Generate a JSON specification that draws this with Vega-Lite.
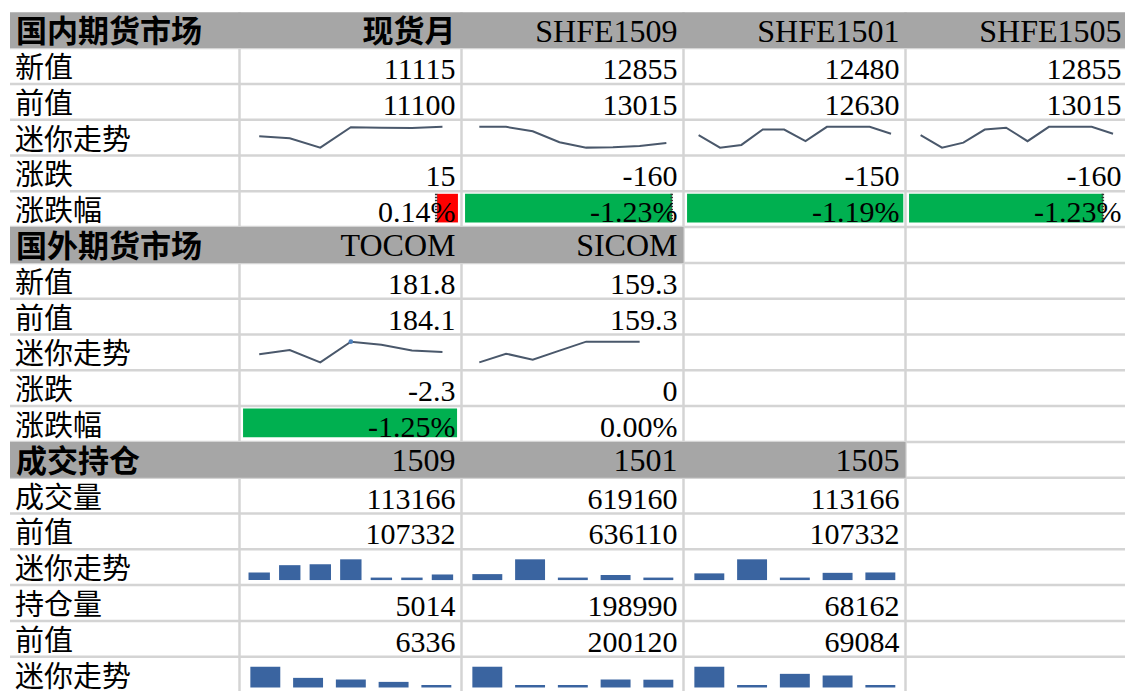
{
  "$schema": "https://vega.github.io/schema/vega-lite/v6.json",
  "width": 1125,
  "height": 691,
  "autosize": {"type": "none"},
  "padding": 0,
  "background": "#ffffff",
  "config": {"view": {"stroke": null}},
  "datasets": {
    "cells": [
      {"row": 0, "col": 0, "text": "国内期货市场", "kind": "head"},
      {"row": 0, "col": 1, "text": "现货月", "kind": "headC"},
      {"row": 0, "col": 2, "text": "SHFE1509", "kind": "headL"},
      {"row": 0, "col": 3, "text": "SHFE1501", "kind": "headL"},
      {"row": 0, "col": 4, "text": "SHFE1505", "kind": "headL"},
      {"row": 1, "col": 0, "text": "新值", "kind": "label"},
      {"row": 1, "col": 1, "text": "11115", "kind": "num"},
      {"row": 1, "col": 2, "text": "12855", "kind": "num"},
      {"row": 1, "col": 3, "text": "12480", "kind": "num"},
      {"row": 1, "col": 4, "text": "12855", "kind": "num"},
      {"row": 2, "col": 0, "text": "前值", "kind": "label"},
      {"row": 2, "col": 1, "text": "11100", "kind": "num"},
      {"row": 2, "col": 2, "text": "13015", "kind": "num"},
      {"row": 2, "col": 3, "text": "12630", "kind": "num"},
      {"row": 2, "col": 4, "text": "13015", "kind": "num"},
      {"row": 3, "col": 0, "text": "迷你走势", "kind": "label"},
      {"row": 4, "col": 0, "text": "涨跌", "kind": "label"},
      {"row": 4, "col": 1, "text": "15", "kind": "num"},
      {"row": 4, "col": 2, "text": "-160", "kind": "num"},
      {"row": 4, "col": 3, "text": "-150", "kind": "num"},
      {"row": 4, "col": 4, "text": "-160", "kind": "num"},
      {"row": 5, "col": 0, "text": "涨跌幅", "kind": "label"},
      {"row": 5, "col": 1, "text": "0.14%", "kind": "num"},
      {"row": 5, "col": 2, "text": "-1.23%", "kind": "num"},
      {"row": 5, "col": 3, "text": "-1.19%", "kind": "num"},
      {"row": 5, "col": 4, "text": "-1.23%", "kind": "num"},
      {"row": 6, "col": 0, "text": "国外期货市场", "kind": "head"},
      {"row": 6, "col": 1, "text": "TOCOM", "kind": "headL"},
      {"row": 6, "col": 2, "text": "SICOM", "kind": "headL"},
      {"row": 7, "col": 0, "text": "新值", "kind": "label"},
      {"row": 7, "col": 1, "text": "181.8", "kind": "num"},
      {"row": 7, "col": 2, "text": "159.3", "kind": "num"},
      {"row": 8, "col": 0, "text": "前值", "kind": "label"},
      {"row": 8, "col": 1, "text": "184.1", "kind": "num"},
      {"row": 8, "col": 2, "text": "159.3", "kind": "num"},
      {"row": 9, "col": 0, "text": "迷你走势", "kind": "label"},
      {"row": 10, "col": 0, "text": "涨跌", "kind": "label"},
      {"row": 10, "col": 1, "text": "-2.3", "kind": "num"},
      {"row": 10, "col": 2, "text": "0", "kind": "num"},
      {"row": 11, "col": 0, "text": "涨跌幅", "kind": "label"},
      {"row": 11, "col": 1, "text": "-1.25%", "kind": "num"},
      {"row": 11, "col": 2, "text": "0.00%", "kind": "num"},
      {"row": 12, "col": 0, "text": "成交持仓", "kind": "head"},
      {"row": 12, "col": 1, "text": "1509", "kind": "headL"},
      {"row": 12, "col": 2, "text": "1501", "kind": "headL"},
      {"row": 12, "col": 3, "text": "1505", "kind": "headL"},
      {"row": 13, "col": 0, "text": "成交量", "kind": "label"},
      {"row": 13, "col": 1, "text": "113166", "kind": "num"},
      {"row": 13, "col": 2, "text": "619160", "kind": "num"},
      {"row": 13, "col": 3, "text": "113166", "kind": "num"},
      {"row": 14, "col": 0, "text": "前值", "kind": "label"},
      {"row": 14, "col": 1, "text": "107332", "kind": "num"},
      {"row": 14, "col": 2, "text": "636110", "kind": "num"},
      {"row": 14, "col": 3, "text": "107332", "kind": "num"},
      {"row": 15, "col": 0, "text": "迷你走势", "kind": "label"},
      {"row": 16, "col": 0, "text": "持仓量", "kind": "label"},
      {"row": 16, "col": 1, "text": "5014", "kind": "num"},
      {"row": 16, "col": 2, "text": "198990", "kind": "num"},
      {"row": 16, "col": 3, "text": "68162", "kind": "num"},
      {"row": 17, "col": 0, "text": "前值", "kind": "label"},
      {"row": 17, "col": 1, "text": "6336", "kind": "num"},
      {"row": 17, "col": 2, "text": "200120", "kind": "num"},
      {"row": 17, "col": 3, "text": "69084", "kind": "num"},
      {"row": 18, "col": 0, "text": "迷你走势", "kind": "label"}
    ],
    "bands": [
      {"row": 0, "from": 0, "to": 5},
      {"row": 6, "from": 0, "to": 3},
      {"row": 12, "from": 0, "to": 4}
    ],
    "databars": [
      {"row": 5, "col": 1, "sign": "up", "lo": 0.89, "hi": 0.984, "axis": 0.886},
      {"row": 5, "col": 2, "sign": "down", "lo": 0.016, "hi": 0.948, "axis": 0.947},
      {"row": 5, "col": 3, "sign": "down", "lo": 0.016, "hi": 0.99, "axis": null},
      {"row": 5, "col": 4, "sign": "down", "lo": 0.016, "hi": 0.89, "axis": 0.889},
      {"row": 11, "col": 1, "sign": "down", "lo": 0.016, "hi": 0.98, "axis": null}
    ],
    "trend": [
      {"row": 3, "col": 1, "i": 0, "v": 55}, {"row": 3, "col": 1, "i": 1, "v": 45}, {"row": 3, "col": 1, "i": 2, "v": 0}, {"row": 3, "col": 1, "i": 3, "v": 98}, {"row": 3, "col": 1, "i": 4, "v": 96}, {"row": 3, "col": 1, "i": 5, "v": 95}, {"row": 3, "col": 1, "i": 6, "v": 100},
      {"row": 3, "col": 2, "i": 0, "v": 100}, {"row": 3, "col": 2, "i": 1, "v": 100}, {"row": 3, "col": 2, "i": 2, "v": 79}, {"row": 3, "col": 2, "i": 3, "v": 26}, {"row": 3, "col": 2, "i": 4, "v": 0}, {"row": 3, "col": 2, "i": 5, "v": 2}, {"row": 3, "col": 2, "i": 6, "v": 8}, {"row": 3, "col": 2, "i": 7, "v": 22},
      {"row": 3, "col": 3, "i": 0, "v": 60}, {"row": 3, "col": 3, "i": 1, "v": 0}, {"row": 3, "col": 3, "i": 2, "v": 13}, {"row": 3, "col": 3, "i": 3, "v": 87}, {"row": 3, "col": 3, "i": 4, "v": 87}, {"row": 3, "col": 3, "i": 5, "v": 31}, {"row": 3, "col": 3, "i": 6, "v": 100}, {"row": 3, "col": 3, "i": 7, "v": 100}, {"row": 3, "col": 3, "i": 8, "v": 100}, {"row": 3, "col": 3, "i": 9, "v": 67},
      {"row": 3, "col": 4, "i": 0, "v": 60}, {"row": 3, "col": 4, "i": 1, "v": 0}, {"row": 3, "col": 4, "i": 2, "v": 24}, {"row": 3, "col": 4, "i": 3, "v": 87}, {"row": 3, "col": 4, "i": 4, "v": 96}, {"row": 3, "col": 4, "i": 5, "v": 31}, {"row": 3, "col": 4, "i": 6, "v": 100}, {"row": 3, "col": 4, "i": 7, "v": 100}, {"row": 3, "col": 4, "i": 8, "v": 100}, {"row": 3, "col": 4, "i": 9, "v": 67},
      {"row": 9, "col": 1, "i": 0, "v": 39}, {"row": 9, "col": 1, "i": 1, "v": 60}, {"row": 9, "col": 1, "i": 2, "v": 0}, {"row": 9, "col": 1, "i": 3, "v": 100}, {"row": 9, "col": 1, "i": 4, "v": 85}, {"row": 9, "col": 1, "i": 5, "v": 57}, {"row": 9, "col": 1, "i": 6, "v": 50},
      {"row": 9, "col": 2, "i": 0, "v": 0}, {"row": 9, "col": 2, "i": 1, "v": 42}, {"row": 9, "col": 2, "i": 2, "v": 13}, {"row": 9, "col": 2, "i": 3, "v": 57}, {"row": 9, "col": 2, "i": 4, "v": 100}, {"row": 9, "col": 2, "i": 5, "v": 100}, {"row": 9, "col": 2, "i": 6, "v": 100}, {"row": 9, "col": 2, "i": 7, "v": null}
    ],
    "volume": [
      {"row": 15, "col": 1, "i": 0, "v": 28}, {"row": 15, "col": 1, "i": 1, "v": 68}, {"row": 15, "col": 1, "i": 2, "v": 73}, {"row": 15, "col": 1, "i": 3, "v": 100}, {"row": 15, "col": 1, "i": 4, "v": 0}, {"row": 15, "col": 1, "i": 5, "v": 0}, {"row": 15, "col": 1, "i": 6, "v": 17},
      {"row": 15, "col": 2, "i": 0, "v": 19}, {"row": 15, "col": 2, "i": 1, "v": 100}, {"row": 15, "col": 2, "i": 2, "v": 0}, {"row": 15, "col": 2, "i": 3, "v": 14}, {"row": 15, "col": 2, "i": 4, "v": 0},
      {"row": 15, "col": 3, "i": 0, "v": 23}, {"row": 15, "col": 3, "i": 1, "v": 100}, {"row": 15, "col": 3, "i": 2, "v": 0}, {"row": 15, "col": 3, "i": 3, "v": 26}, {"row": 15, "col": 3, "i": 4, "v": 28},
      {"row": 18, "col": 1, "i": 0, "v": 100}, {"row": 18, "col": 1, "i": 1, "v": 39}, {"row": 18, "col": 1, "i": 2, "v": 30}, {"row": 18, "col": 1, "i": 3, "v": 17}, {"row": 18, "col": 1, "i": 4, "v": 0},
      {"row": 18, "col": 2, "i": 0, "v": 100}, {"row": 18, "col": 2, "i": 1, "v": 0}, {"row": 18, "col": 2, "i": 2, "v": 0}, {"row": 18, "col": 2, "i": 3, "v": 30}, {"row": 18, "col": 2, "i": 4, "v": 29},
      {"row": 18, "col": 3, "i": 0, "v": 100}, {"row": 18, "col": 3, "i": 1, "v": 0}, {"row": 18, "col": 3, "i": 2, "v": 61}, {"row": 18, "col": 3, "i": 3, "v": 52}, {"row": 18, "col": 3, "i": 4, "v": 0}
    ]
  },
  "layer": [
    {
      "data": {"name": "cells"},
      "transform": [{"filter": "datum.col == 0"}, {"calculate": "datum.row + 1", "as": "yb"}],
      "mark": {"type": "rule", "color": "#d4d4d4", "strokeWidth": 2.5},
      "encoding": {
        "x": {"datum": 0, "type": "quantitative", "scale": {"domain": [0, 1, 5], "range": [10, 239.5, 1127.5], "nice": false, "zero": false}, "axis": null},
        "x2": {"datum": 5},
        "y": {"field": "yb", "type": "quantitative", "scale": {"domain": [0, 19], "range": [12.3, 692.5], "nice": false, "zero": false}, "axis": null}
      }
    },
    {
      "data": {"name": "cells"},
      "transform": [{"filter": "datum.row == 0"}, {"calculate": "datum.col + 1", "as": "xr"}],
      "mark": {"type": "rule", "color": "#d4d4d4", "strokeWidth": 2.5},
      "encoding": {
        "x": {"field": "xr", "type": "quantitative", "scale": {"domain": [0, 1, 5], "range": [10, 239.5, 1127.5], "nice": false, "zero": false}, "axis": null},
        "y": {"datum": 0, "type": "quantitative", "scale": {"domain": [0, 19], "range": [12.3, 692.5], "nice": false, "zero": false}, "axis": null},
        "y2": {"datum": 19}
      }
    },
    {
      "data": {"name": "bands"},
      "transform": [{"calculate": "datum.row + 1", "as": "rowEnd"}],
      "mark": {"type": "rect", "color": "#a6a6a6"},
      "encoding": {
        "x": {"field": "from", "type": "quantitative", "scale": {"domain": [0, 1, 5], "range": [10, 239.5, 1127.5], "nice": false, "zero": false}, "axis": null},
        "x2": {"field": "to"},
        "y": {"field": "row", "type": "quantitative", "scale": {"domain": [0, 19], "range": [12.3, 692.5], "nice": false, "zero": false}, "axis": null},
        "y2": {"field": "rowEnd"}
      }
    },
    {
      "data": {"name": "databars"},
      "transform": [
        {"calculate": "datum.col + datum.lo", "as": "bx0"},
        {"calculate": "datum.col + datum.hi", "as": "bx1"},
        {"calculate": "datum.row + 0.07", "as": "by0"},
        {"calculate": "datum.row + 0.87", "as": "by1"}
      ],
      "mark": {"type": "rect"},
      "encoding": {
        "x": {"field": "bx0", "type": "quantitative", "scale": {"domain": [0, 1, 5], "range": [10, 239.5, 1127.5], "nice": false, "zero": false}, "axis": null},
        "x2": {"field": "bx1"},
        "y": {"field": "by0", "type": "quantitative", "scale": {"domain": [0, 19], "range": [12.3, 692.5], "nice": false, "zero": false}, "axis": null},
        "y2": {"field": "by1"},
        "color": {"field": "sign", "type": "nominal", "scale": {"domain": ["up", "down"], "range": ["#ff0000", "#00b050"]}, "legend": null}
      }
    },
    {
      "data": {"name": "databars"},
      "transform": [
        {"filter": "isValid(datum.axis)"},
        {"calculate": "datum.col + datum.axis", "as": "ax"},
        {"calculate": "datum.row + 0.07", "as": "by0"},
        {"calculate": "datum.row + 0.87", "as": "by1"}
      ],
      "mark": {"type": "rule", "color": "#333333", "strokeWidth": 2.5, "strokeDash": [1.5, 1.5]},
      "encoding": {
        "x": {"field": "ax", "type": "quantitative", "scale": {"domain": [0, 1, 5], "range": [10, 239.5, 1127.5], "nice": false, "zero": false}, "axis": null},
        "y": {"field": "by0", "type": "quantitative", "scale": {"domain": [0, 19], "range": [12.3, 692.5], "nice": false, "zero": false}, "axis": null},
        "y2": {"field": "by1"}
      }
    },
    {
      "data": {"name": "trend"},
      "transform": [
        {"joinaggregate": [{"op": "count", "as": "n"}], "groupby": ["row", "col"]},
        {"filter": "isValid(datum.v)"},
        {"calculate": "datum.col + 0.02 + (datum.i + 0.5) * 0.963 / datum.n", "as": "px"},
        {"calculate": "datum.row + 0.78 - datum.v / 100 * 0.58", "as": "py"},
        {"calculate": "datum.row + '-' + datum.col", "as": "key"}
      ],
      "mark": {"type": "line", "color": "#4a586b", "strokeWidth": 2},
      "encoding": {
        "x": {"field": "px", "type": "quantitative", "scale": {"domain": [0, 1, 5], "range": [10, 239.5, 1127.5], "nice": false, "zero": false}, "axis": null},
        "y": {"field": "py", "type": "quantitative", "scale": {"domain": [0, 19], "range": [12.3, 692.5], "nice": false, "zero": false}, "axis": null},
        "detail": {"field": "key", "type": "nominal"},
        "order": {"field": "i", "type": "quantitative"}
      }
    },
    {
      "data": {"name": "trend"},
      "transform": [
        {"joinaggregate": [{"op": "count", "as": "n"}, {"op": "max", "field": "v", "as": "vmax"}], "groupby": ["row", "col"]},
        {"filter": "datum.row == 9 && datum.col == 1 && datum.v == datum.vmax"},
        {"calculate": "datum.col + 0.02 + (datum.i + 0.5) * 0.963 / datum.n", "as": "px"},
        {"calculate": "datum.row + 0.78 - datum.v / 100 * 0.58", "as": "py"}
      ],
      "mark": {"type": "point", "filled": true, "color": "#4f81bd", "size": 22, "opacity": 1},
      "encoding": {
        "x": {"field": "px", "type": "quantitative", "scale": {"domain": [0, 1, 5], "range": [10, 239.5, 1127.5], "nice": false, "zero": false}, "axis": null},
        "y": {"field": "py", "type": "quantitative", "scale": {"domain": [0, 19], "range": [12.3, 692.5], "nice": false, "zero": false}, "axis": null}
      }
    },
    {
      "data": {"name": "volume"},
      "transform": [
        {"joinaggregate": [{"op": "count", "as": "n"}], "groupby": ["row", "col"]},
        {"calculate": "0.963 / datum.n", "as": "slot"},
        {"calculate": "datum.col + 0.02 + (datum.i + 0.5) * datum.slot", "as": "cx"},
        {"calculate": "datum.cx - 0.35 * datum.slot", "as": "bx0"},
        {"calculate": "datum.cx + 0.35 * datum.slot", "as": "bx1"},
        {"calculate": "datum.row + 0.86", "as": "by1"},
        {"calculate": "datum.by1 - 0.07 - datum.v / 100 * 0.51", "as": "by0"}
      ],
      "mark": {"type": "rect", "color": "#3a64a0"},
      "encoding": {
        "x": {"field": "bx0", "type": "quantitative", "scale": {"domain": [0, 1, 5], "range": [10, 239.5, 1127.5], "nice": false, "zero": false}, "axis": null},
        "x2": {"field": "bx1"},
        "y": {"field": "by0", "type": "quantitative", "scale": {"domain": [0, 19], "range": [12.3, 692.5], "nice": false, "zero": false}, "axis": null},
        "y2": {"field": "by1"}
      }
    },
    {
      "data": {"name": "cells"},
      "transform": [{"filter": "datum.kind == 'label'"}, {"calculate": "datum.row + 1", "as": "yb"}],
      "mark": {"type": "text", "align": "left", "baseline": "alphabetic", "dx": 5, "dy": -6, "font": "Noto Sans CJK SC", "fontSize": 29, "color": "#000000"},
      "encoding": {
        "x": {"field": "col", "type": "quantitative", "scale": {"domain": [0, 1, 5], "range": [10, 239.5, 1127.5], "nice": false, "zero": false}, "axis": null},
        "y": {"field": "yb", "type": "quantitative", "scale": {"domain": [0, 19], "range": [12.3, 692.5], "nice": false, "zero": false}, "axis": null},
        "text": {"field": "text", "type": "nominal"}
      }
    },
    {
      "data": {"name": "cells"},
      "transform": [{"filter": "datum.kind == 'head'"}, {"calculate": "datum.row + 1", "as": "yb"}],
      "mark": {"type": "text", "align": "left", "baseline": "alphabetic", "dx": 6, "dy": -6, "font": "Noto Sans CJK SC", "fontWeight": "bold", "fontSize": 31, "color": "#000000"},
      "encoding": {
        "x": {"field": "col", "type": "quantitative", "scale": {"domain": [0, 1, 5], "range": [10, 239.5, 1127.5], "nice": false, "zero": false}, "axis": null},
        "y": {"field": "yb", "type": "quantitative", "scale": {"domain": [0, 19], "range": [12.3, 692.5], "nice": false, "zero": false}, "axis": null},
        "text": {"field": "text", "type": "nominal"}
      }
    },
    {
      "data": {"name": "cells"},
      "transform": [{"filter": "datum.kind == 'headC'"}, {"calculate": "datum.row + 1", "as": "yb"}, {"calculate": "datum.col + 1", "as": "xr"}],
      "mark": {"type": "text", "align": "right", "baseline": "alphabetic", "dx": -6, "dy": -6, "font": "Noto Sans CJK SC", "fontWeight": "bold", "fontSize": 31, "color": "#000000"},
      "encoding": {
        "x": {"field": "xr", "type": "quantitative", "scale": {"domain": [0, 1, 5], "range": [10, 239.5, 1127.5], "nice": false, "zero": false}, "axis": null},
        "y": {"field": "yb", "type": "quantitative", "scale": {"domain": [0, 19], "range": [12.3, 692.5], "nice": false, "zero": false}, "axis": null},
        "text": {"field": "text", "type": "nominal"}
      }
    },
    {
      "data": {"name": "cells"},
      "transform": [{"filter": "datum.kind == 'headL'"}, {"calculate": "datum.row + 1", "as": "yb"}, {"calculate": "datum.col + 1", "as": "xr"}],
      "mark": {"type": "text", "align": "right", "baseline": "alphabetic", "dx": -6, "dy": -6.5, "font": "Liberation Serif", "fontSize": 32, "color": "#000000"},
      "encoding": {
        "x": {"field": "xr", "type": "quantitative", "scale": {"domain": [0, 1, 5], "range": [10, 239.5, 1127.5], "nice": false, "zero": false}, "axis": null},
        "y": {"field": "yb", "type": "quantitative", "scale": {"domain": [0, 19], "range": [12.3, 692.5], "nice": false, "zero": false}, "axis": null},
        "text": {"field": "text", "type": "nominal"}
      }
    },
    {
      "data": {"name": "cells"},
      "transform": [{"filter": "datum.kind == 'num'"}, {"calculate": "datum.row + 1", "as": "yb"}, {"calculate": "datum.col + 1", "as": "xr"}],
      "mark": {"type": "text", "align": "right", "baseline": "alphabetic", "dx": -6, "dy": -5, "font": "Liberation Serif", "fontSize": 30, "color": "#000000"},
      "encoding": {
        "x": {"field": "xr", "type": "quantitative", "scale": {"domain": [0, 1, 5], "range": [10, 239.5, 1127.5], "nice": false, "zero": false}, "axis": null},
        "y": {"field": "yb", "type": "quantitative", "scale": {"domain": [0, 19], "range": [12.3, 692.5], "nice": false, "zero": false}, "axis": null},
        "text": {"field": "text", "type": "nominal"}
      }
    }
  ]
}
